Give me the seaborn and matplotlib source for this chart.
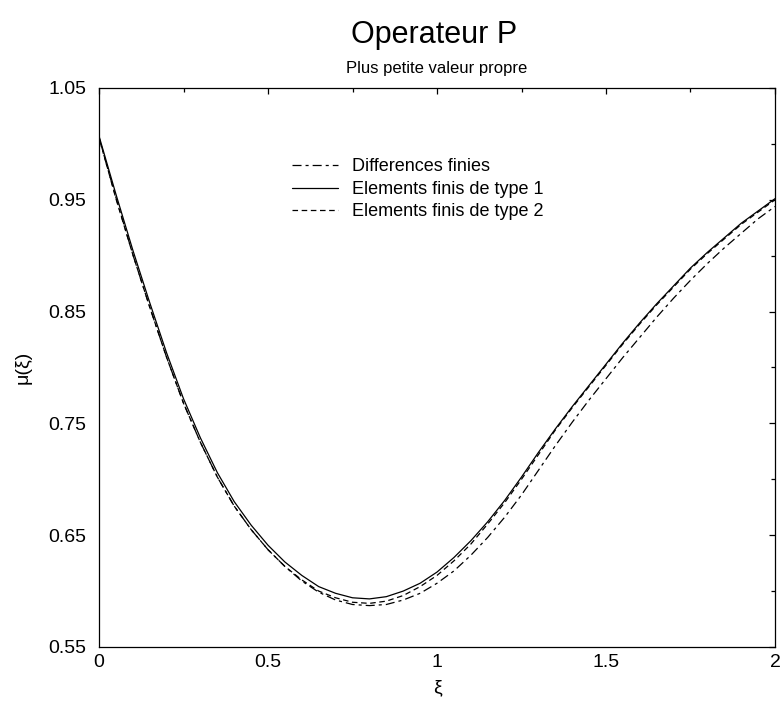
import numpy as np
import pandas as pd
import matplotlib
matplotlib.use("Agg")
import matplotlib.pyplot as plt
from matplotlib.ticker import MultipleLocator, FixedLocator, FixedFormatter
import seaborn as sns

# Smallest eigenvalue mu(xi) of operator P for three discretisations
xi = [0.00, 0.05, 0.10, 0.15, 0.20, 0.25, 0.30, 0.35, 0.40, 0.45,
      0.50, 0.55, 0.60, 0.65, 0.70, 0.75, 0.80, 0.85, 0.90, 0.95,
      1.00, 1.05, 1.10, 1.15, 1.20, 1.25, 1.30, 1.35, 1.40, 1.45,
      1.50, 1.55, 1.60, 1.65, 1.70, 1.75, 1.80, 1.85, 1.90, 1.95, 2.00]

differences_finies = [1.005, 0.952, 0.901, 0.854, 0.809, 0.768, 0.733, 0.702, 0.676, 0.655,
                      0.637, 0.622, 0.609, 0.599, 0.592, 0.588, 0.587, 0.588, 0.592, 0.598,
                      0.607, 0.618, 0.632, 0.648, 0.666, 0.686, 0.708, 0.730, 0.751, 0.771,
                      0.790, 0.809, 0.827, 0.845, 0.862, 0.878, 0.893, 0.907, 0.920, 0.933, 0.944]

elements_type1 = [1.007, 0.955, 0.905, 0.858, 0.813, 0.772, 0.737, 0.706, 0.680, 0.659,
                  0.641, 0.626, 0.614, 0.604, 0.598, 0.594, 0.593, 0.595, 0.600, 0.607,
                  0.617, 0.630, 0.645, 0.662, 0.681, 0.702, 0.724, 0.745, 0.765, 0.784,
                  0.803, 0.822, 0.840, 0.857, 0.873, 0.889, 0.903, 0.916, 0.929, 0.940, 0.951]

elements_type2 = [1.006, 0.951, 0.901, 0.854, 0.809, 0.768, 0.733, 0.702, 0.676, 0.655,
                  0.637, 0.622, 0.610, 0.600, 0.594, 0.590, 0.589, 0.591, 0.596, 0.604,
                  0.614, 0.627, 0.642, 0.660, 0.679, 0.700, 0.722, 0.744, 0.764, 0.783,
                  0.802, 0.821, 0.839, 0.856, 0.872, 0.888, 0.902, 0.915, 0.928, 0.939, 0.950]

series_names = ["Differences finies", "Elements finis de type 1", "Elements finis de type 2"]
x_ticks = [0, 0.5, 1, 1.5, 2]
x_tick_labels = ["0", "0.5", "1", "1.5", "2"]
y_ticks = [0.55, 0.65, 0.75, 0.85, 0.95, 1.05]
y_tick_labels = ["0.55", "0.65", "0.75", "0.85", "0.95", "1.05"]

df = pd.concat([
    pd.DataFrame({"xi": xi, "mu": vals, "methode": name})
    for name, vals in zip(series_names, [differences_finies, elements_type1, elements_type2])
], ignore_index=True)

sns.set_style("white")
plt.rcParams["font.family"] = ["Liberation Sans", "DejaVu Sans"]
plt.rcParams["text.color"] = "black"
plt.rcParams["axes.labelcolor"] = "black"
plt.rcParams["lines.scale_dashes"] = False

fig = plt.figure(figsize=(7.81, 7.04), dpi=100)
ax = fig.add_axes([0.1268, 0.081, 0.8655, 0.794])

dash_styles = {
    series_names[0]: (6.5, 2.9, 2.2, 2.9),
    series_names[1]: "",
    series_names[2]: (4.0, 2.6),
}

sns.lineplot(data=df, x="xi", y="mu", style="methode", style_order=series_names,
             dashes=dash_styles, color="black", linewidth=0.9, ax=ax, sort=False)

ax.set_xlim(0, 2)
ax.set_ylim(0.55, 1.05)
ax.xaxis.set_major_locator(FixedLocator(x_ticks))
ax.xaxis.set_major_formatter(FixedFormatter(x_tick_labels))
ax.yaxis.set_major_locator(FixedLocator(y_ticks))
ax.yaxis.set_major_formatter(FixedFormatter(y_tick_labels))
ax.xaxis.set_minor_locator(MultipleLocator(0.25))
ax.yaxis.set_minor_locator(MultipleLocator(0.05))

ax.tick_params(which="both", direction="in", top=True, right=True,
               colors="black", labelcolor="black", width=0.9)
ax.tick_params(which="major", length=4.5, labelsize=14)
ax.tick_params(which="minor", length=3)
ax.tick_params(axis="x", which="major", pad=5)
ax.tick_params(axis="y", which="major", pad=9)
for sp in ax.spines.values():
    sp.set_color("black")
    sp.set_linewidth(0.9)

ax.set_xlabel("ξ", fontsize=14, labelpad=6)
ax.set_ylabel("μ(ξ)", fontsize=14, labelpad=12)
ax.set_title("Plus petite valeur propre", fontsize=12, pad=11)
fig.suptitle("Operateur P", fontsize=22, y=0.95, va="center", x=0.556)

leg = ax.legend(loc="upper left", bbox_to_anchor=(0.286, 0.874), frameon=False,
                fontsize=13, handlelength=2.55, handletextpad=0.75,
                labelspacing=0.3, borderpad=0, borderaxespad=0)

fig.savefig("out.png", dpi=100)
